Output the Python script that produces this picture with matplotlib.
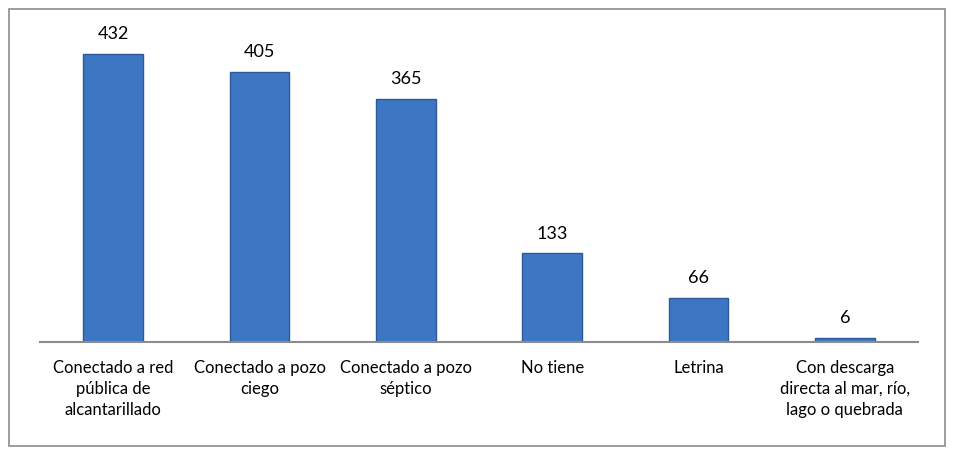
import matplotlib.pyplot as plt
from matplotlib.patches import Rectangle

categories = [
    "Conectado a red\npública de\nalcantarillado",
    "Conectado a pozo\nciego",
    "Conectado a pozo\nséptico",
    "No tiene",
    "Letrina",
    "Con descarga\ndirecta al mar, río,\nlago o quebrada",
]
values = [432, 405, 365, 133, 66, 6]

plt.rcParams['font.family'] = ['Lato', 'DejaVu Sans']

fig = plt.figure(figsize=(9.54, 4.56), dpi=100)
# outer chart border
fig.patches.append(Rectangle((9 / 954, 9 / 456), 936 / 954, 437 / 456,
                             transform=fig.transFigure, fill=False,
                             edgecolor='#8c8c8c', linewidth=1.2))

ax = fig.add_axes([40 / 954, 113 / 456, 878 / 954, 320 / 456])
x = range(len(values))
bars = ax.bar(x, values, width=0.41, color='#3d77c4', edgecolor='#2a5a99', linewidth=1.0)

for b, v in zip(bars, values):
    ax.text(b.get_x() + b.get_width() / 2, v + 19, str(v),
            ha='center', va='bottom', fontsize=13, color='black')

ax.set_xlim(-0.5, len(values) - 0.5)
ax.set_ylim(0, 480)
ax.set_yticks([])
ax.set_xticks(list(x))
ax.set_xticklabels(categories, fontsize=12, linespacing=1.4)
ax.tick_params(axis='x', length=0, pad=12)
for s in ['top', 'right', 'left']:
    ax.spines[s].set_visible(False)
ax.spines['bottom'].set_color('#8c8c8c')
ax.spines['bottom'].set_linewidth(1.5)

fig.savefig('out.png', dpi=100)
